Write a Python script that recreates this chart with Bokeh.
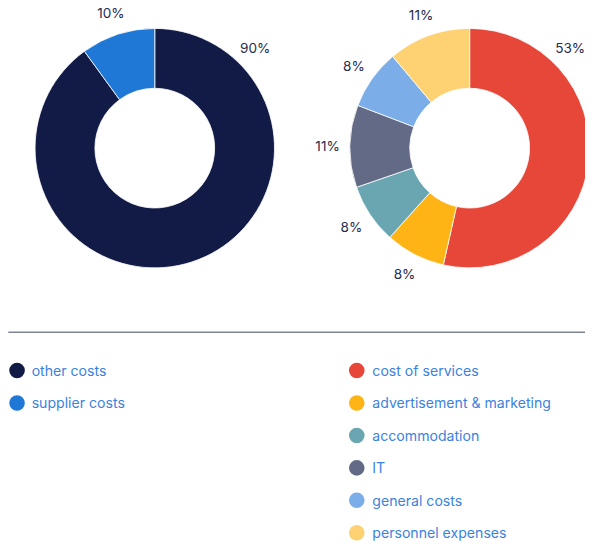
import math
from bokeh.plotting import figure
from bokeh.models import Range1d, ColumnDataSource
from bokeh.core.properties import value
from bokeh.embed import file_html
from bokeh.resources import INLINE

# ---- data ----
left_labels = ["other costs", "supplier costs"]
left_values = [90, 10]
left_colors = ["#121b46", "#2078d6"]

right_labels = ["cost of services", "advertisement & marketing", "accommodation",
                "IT", "general costs", "personnel expenses"]
right_values = [53, 8, 8, 11, 8, 11]
right_colors = ["#e74738", "#feb414", "#69a6b2", "#626a85", "#7baee9", "#fed273"]

# ---- layout (data units = reference pixels, 601 x 557) ----
RW, RH = 601, 557
W, H = 585, 541
S = W / RW
FONT = "Inter"
LABEL_COLOR = "#262c4f"
LEGEND_TEXT = "#3b82de"

p = figure(width=W, height=H, output_backend="svg", toolbar_location=None,
           x_range=Range1d(0, RW), y_range=Range1d(0, RH), min_border=0)
p.axis.visible = False
p.grid.visible = False
p.outline_line_color = None
p.background_fill_color = "white"


def Y(py):
    return RH - py


def fs(px):
    return f"{px * S:.1f}px"


R_OUT, R_IN, R_LAB = 123, 61.5, 146


def donut(cx, cy, vals, colors):
    total = sum(vals)
    starts, ends, lx, ly, txt = [], [], [], [], []
    acc = 0.0
    for v in vals:
        t1 = acc / total * 360.0
        t2 = (acc + v) / total * 360.0
        acc += v
        starts.append(math.radians(90 - t2))
        ends.append(math.radians(90 - t1))
        mid = (t1 + t2) / 2 if v / total < 0.5 else 45.0
        a = math.radians(90 - mid)
        lx.append(cx + R_LAB * math.cos(a))
        ly.append(cy + R_LAB * math.sin(a))
        txt.append(f"{v}%")
    src = ColumnDataSource(dict(s=starts, e=ends, c=colors))
    p.annular_wedge(x=cx, y=cy, inner_radius=R_IN, outer_radius=R_OUT,
                    start_angle="s", end_angle="e", fill_color="c",
                    line_color="white", line_width=0.8, source=src)
    p.text(x=lx, y=ly, text=txt, text_align="center", text_baseline="middle",
           text_font=value(FONT), text_font_size=fs(14), text_color=LABEL_COLOR)


donut(158.5, Y(152), left_values, left_colors)
donut(482, Y(152), right_values, right_colors)

# separator line
p.segment(x0=[8], y0=[Y(341.5)], x1=[RW], y1=[Y(341.5)], line_color="#7d8497", line_width=1.6)

# legend
row0, step = 381, 33.4


def legend(px_circle, px_text, labels, colors):
    ys = [Y(row0 + i * step) for i in range(len(labels))]
    p.scatter(x=[px_circle] * len(labels), y=ys, size=16 * S, fill_color=colors,
              line_color=None)
    p.text(x=[px_text] * len(labels), y=ys, text=labels, text_align="left",
           text_baseline="middle", text_font=value(FONT), text_font_size=fs(14.5),
           text_color=LEGEND_TEXT)


legend(17, 32, left_labels, left_colors)
legend(366, 382, right_labels, right_colors)

open("out.html", "w").write(file_html(p, INLINE))
